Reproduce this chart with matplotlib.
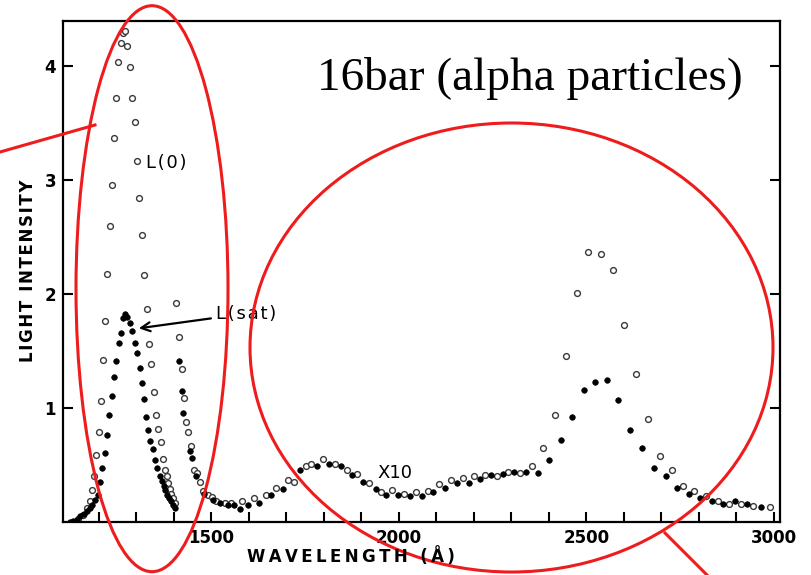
import numpy as np
import matplotlib
matplotlib.use("Agg")
import matplotlib.pyplot as plt
from matplotlib.patches import Ellipse
from matplotlib.lines import Line2D

# ---------------- data (wavelength in Angstrom, light intensity) ----------------
# L(0): open circles, unscaled VUV band
l0_uv_wl = [1145, 1158, 1170, 1176, 1182, 1188, 1194, 1201, 1206, 1211, 1216, 1223, 1229,
            1235, 1241, 1247, 1252, 1259, 1265, 1269, 1276, 1283, 1288, 1296, 1302, 1307,
            1315, 1321, 1328, 1334, 1340, 1347, 1354, 1359, 1365, 1371, 1376, 1381, 1385,
            1389, 1394, 1398, 1403]
l0_uv_val = [0.03, 0.06, 0.12, 0.18, 0.28, 0.40, 0.59, 0.79, 1.06, 1.42, 1.76, 2.18, 2.60,
             2.96, 3.37, 3.72, 4.04, 4.20, 4.29, 4.31, 4.18, 3.99, 3.72, 3.51, 3.17, 2.84,
             2.52, 2.17, 1.87, 1.56, 1.39, 1.14, 0.94, 0.82, 0.70, 0.55, 0.46, 0.40, 0.34,
             0.29, 0.25, 0.21, 0.17]

# L(sat): filled circles, unscaled VUV band
lsat_uv_wl = [1123, 1132, 1141, 1151, 1160, 1168, 1176, 1183, 1190, 1199, 1204, 1210, 1217,
              1223, 1228, 1235, 1241, 1247, 1253, 1259, 1265, 1270, 1276, 1283, 1290, 1297,
              1302, 1309, 1315, 1321, 1327, 1332, 1338, 1345, 1349, 1356, 1363, 1368, 1373,
              1378, 1383, 1388, 1393, 1398, 1403]
lsat_uv_val = [0.00, 0.01, 0.02, 0.05, 0.07, 0.10, 0.12, 0.15, 0.19, 0.24, 0.35, 0.47, 0.61,
               0.76, 0.94, 1.11, 1.27, 1.41, 1.57, 1.66, 1.79, 1.83, 1.80, 1.75, 1.68, 1.57,
               1.48, 1.35, 1.22, 1.08, 0.92, 0.81, 0.71, 0.64, 0.54, 0.47, 0.40, 0.36, 0.32,
               0.28, 0.24, 0.21, 0.18, 0.15, 0.12]

# L(0): open circles, x10 region
l0_x10_wl = [1407, 1413, 1421, 1427, 1433, 1439, 1447, 1453, 1463, 1471, 1477, 1491, 1501,
             1514, 1536, 1554, 1581, 1614, 1645, 1674, 1705, 1720, 1752, 1767, 1797, 1829,
             1861, 1889, 1921, 1952, 1983, 2013, 2045, 2077, 2107, 2138, 2170, 2201, 2231,
             2261, 2291, 2323, 2354, 2385, 2416, 2445, 2475, 2505, 2538, 2570, 2600, 2631,
             2663, 2696, 2727, 2757, 2787, 2818, 2850, 2880, 2911, 2945, 2989]
l0_x10_val = [1.92, 1.62, 1.34, 1.09, 0.88, 0.79, 0.67, 0.46, 0.43, 0.35, 0.27, 0.24, 0.22,
              0.18, 0.17, 0.17, 0.18, 0.21, 0.24, 0.30, 0.37, 0.35, 0.49, 0.51, 0.55, 0.51,
              0.46, 0.42, 0.34, 0.26, 0.28, 0.25, 0.26, 0.27, 0.33, 0.37, 0.39, 0.40, 0.41,
              0.40, 0.44, 0.43, 0.49, 0.65, 0.94, 1.46, 2.01, 2.37, 2.35, 2.21, 1.73, 1.30,
              0.90, 0.58, 0.46, 0.32, 0.27, 0.23, 0.18, 0.16, 0.16, 0.14, 0.13]

# L(sat): filled circles, x10 region
lsat_x10_wl = [1413, 1421, 1425, 1444, 1450, 1459, 1481, 1505, 1523, 1545, 1560, 1576, 1598,
               1627, 1659, 1691, 1736, 1782, 1814, 1845, 1874, 1905, 1938, 1967, 1998, 2029,
               2061, 2091, 2123, 2154, 2187, 2216, 2245, 2277, 2307, 2339, 2371, 2401, 2431,
               2461, 2493, 2523, 2554, 2585, 2616, 2647, 2680, 2711, 2742, 2773, 2803, 2834,
               2865, 2896, 2927, 2965]
lsat_x10_val = [1.41, 1.15, 0.96, 0.62, 0.56, 0.40, 0.25, 0.19, 0.17, 0.15, 0.15, 0.11, 0.15,
                0.17, 0.24, 0.29, 0.46, 0.49, 0.51, 0.49, 0.41, 0.35, 0.29, 0.24, 0.24, 0.23,
                0.23, 0.26, 0.30, 0.34, 0.34, 0.38, 0.41, 0.42, 0.44, 0.44, 0.43, 0.54, 0.72,
                0.92, 1.16, 1.23, 1.25, 1.07, 0.81, 0.65, 0.47, 0.40, 0.30, 0.25, 0.21, 0.18,
                0.16, 0.18, 0.16, 0.13]

x_ticks = list(range(1200, 3001, 100))
x_tick_labels = ["1500", "2000", "2500", "3000"]
y_ticks = [1, 2, 3, 4]
y_tick_labels = ["1", "2", "3", "4"]

# ---------------- figure ----------------
W, H = 812, 575
fig = plt.figure(figsize=(W / 100, H / 100), dpi=100)
ax = fig.add_axes([63 / W, 1 - 522 / H, (780 - 63) / W, (522 - 20.7) / H])
ax.set_xlim(1105, 3016)
ax.set_ylim(0, 4.40)

open_kw = dict(linestyle="none", marker="o", ms=4.2, mfc="white", mec="#3a3a3a", mew=1.0)
fill_kw = dict(linestyle="none", marker="o", ms=4.0, mfc="black", mec="black", mew=0.5)

ax.plot(l0_uv_wl, l0_uv_val, **open_kw)
ax.plot(l0_x10_wl, l0_x10_val, **open_kw)
ax.plot(lsat_uv_wl, lsat_uv_val, **fill_kw)
ax.plot(lsat_x10_wl, lsat_x10_val, **fill_kw)

for s in ax.spines.values():
    s.set_linewidth(1.6)
    s.set_color("black")

ax.set_xticks(x_ticks)
ax.set_xticklabels([str(t) if str(t) in x_tick_labels else "" for t in x_ticks])
ax.set_yticks(y_ticks)
ax.set_yticklabels(y_tick_labels)
ax.tick_params(direction="in", length=7, width=1.5, right=True, top=False,
               labelsize=12, pad=5)
for lab in ax.get_xticklabels() + ax.get_yticklabels():
    lab.set_fontweight("bold")


def spaced(s, sep):
    return sep.join(s)


# axis labels (positioned as in the scan, letter-spaced)
fig.text(351 / W, 1 - 557 / H, spaced("WAVELENGTH (Å)", "\u2009"), ha="center",
         va="center", fontsize=12, fontweight="bold")
fig.text(28 / W, 1 - 270.5 / H, spaced("LIGHT INTENSITY", "\u200a"), ha="center",
         va="center", rotation=90, fontsize=12, fontweight="bold")

# annotations
ax.text(1327, 3.15, spaced("L(0)", "\u200a"), ha="left", va="center", fontsize=13)
ax.text(1944, 0.43, "X10", ha="left", va="center", fontsize=13)
ax.annotate(spaced("L(sat)", "\u200a"), xy=(1307, 1.70), xytext=(1514, 1.83),
            ha="left", va="center", fontsize=13,
            arrowprops=dict(arrowstyle="->", color="black", lw=1.6,
                            shrinkA=2, shrinkB=0, mutation_scale=16))

# overlaid title
fig.text(317 / W, 1 - 90 / H, "16bar (alpha particles)", ha="left", va="baseline",
         fontsize=34, family="Liberation Serif")

# red hand-drawn highlights (figure pixel coordinates)
red = "#ee1c1c"


def fx(px):
    return px / W


def fy(py):
    return 1 - py / H


e1 = Ellipse((fx(152), fy(288.7)), 152 / W, 566 / H, fill=False, ec=red, lw=2.2,
             transform=fig.transFigure)
e2 = Ellipse((fx(511.5), fy(347.5)), 523 / W, 449 / H, fill=False, ec=red, lw=2.2,
             transform=fig.transFigure)
fig.add_artist(e1)
fig.add_artist(e2)
fig.add_artist(Line2D([fx(0), fx(95)], [fy(152), fy(125)], color=red, lw=2.2,
                      transform=fig.transFigure))
fig.add_artist(Line2D([fx(665), fx(707)], [fy(533), fy(575)], color=red, lw=2.2,
                      transform=fig.transFigure))

fig.savefig("out.png", dpi=100)
